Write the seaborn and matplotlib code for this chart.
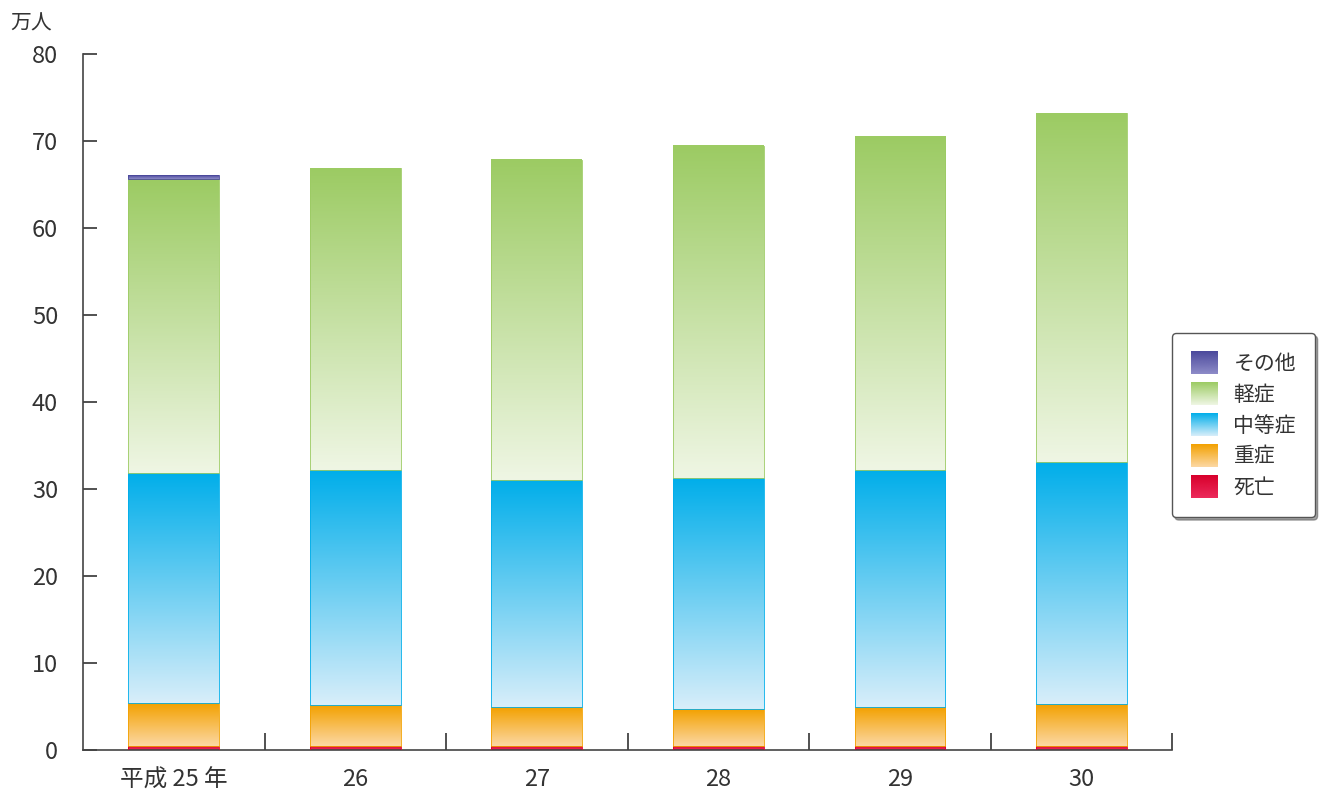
import numpy as np
import pandas as pd
import matplotlib
matplotlib.use("Agg")
import matplotlib.pyplot as plt
import seaborn as sns
from matplotlib.colors import LinearSegmentedColormap
from matplotlib.patches import Patch
from matplotlib.legend_handler import HandlerBase
from matplotlib.image import BboxImage
from matplotlib.transforms import Bbox, TransformedBbox

# data (万人)
years = ["平成 25 年", "26", "27", "28", "29", "30"]
death = [0.5, 0.5, 0.5, 0.5, 0.5, 0.5]
severe = [4.9, 4.7, 4.4, 4.2, 4.4, 4.8]
moderate = [26.5, 27.0, 26.1, 26.6, 27.3, 27.8]
mild = [33.8, 34.7, 36.8, 38.2, 38.3, 40.1]
other = [0.45, 0, 0, 0, 0, 0]

labels = ["死亡", "重症", "中等症", "軽症", "その他"]
# (bottom colour, top colour) for each gradient
grads = {
    "死亡": ("#EC2A5A", "#D8002C"),
    "重症": ("#FCD8A4", "#F3A100"),
    "中等症": ("#D8EEFA", "#00AEEA"),
    "軽症": ("#EFF6E4", "#9CCB63"),
    "その他": ("#8E8CC8", "#4A489C"),
}

df = pd.DataFrame({"死亡": death, "重症": severe, "中等症": moderate,
                   "軽症": mild, "その他": other}, index=years)
cum = df.cumsum(axis=1)

sns.set_style("ticks")
plt.rcParams["font.family"] = ["Noto Sans CJK JP", "DejaVu Sans"]
plt.rcParams["text.color"] = "#333333"

fig = plt.figure(figsize=(13.29, 7.98), dpi=100)
ax = fig.add_axes([0.0625, 0.060, 0.8195, 0.872])

grad = np.linspace(0, 1, 256).reshape(-1, 1)

for i, lab in enumerate(labels):
    n_before = len(ax.patches)
    sns.barplot(x=years, y=cum[lab].values, color=grads[lab][1], width=0.5,
                ax=ax, saturation=1)
    new = ax.patches[n_before:]
    bottoms = cum[labels[i - 1]].values if i > 0 else np.zeros(len(years))
    cmap = LinearSegmentedColormap.from_list(lab, list(grads[lab]))
    for p, b in zip(new, bottoms):
        top = p.get_y() + p.get_height()
        if top - b <= 0:
            p.set_visible(False)
            continue
        p.set_y(b)
        p.set_height(top - b)
        p.set_facecolor("none")
        p.set_edgecolor(grads[lab][1])
        p.set_linewidth(0.6)
        p.set_zorder(3)
        x0 = p.get_x()
        ax.imshow(grad, cmap=cmap, origin="lower", aspect="auto",
                  extent=[x0, x0 + p.get_width(), b, top], zorder=2,
                  interpolation="bicubic")

ax.set_xlim(-0.5, 5.5)
ax.set_ylim(0, 80)
ax.set_yticks(range(0, 81, 10))
ax.tick_params(axis="y", direction="in", length=10, width=1.2, pad=18,
               labelsize=17, colors="#333333")
ax.tick_params(axis="x", which="major", length=0, pad=13, labelsize=17,
               colors="#333333")
ax.set_xticks(np.arange(0.5, 6, 1), minor=True)
ax.tick_params(axis="x", which="minor", direction="in", length=12, width=1.2,
               color="#333333")
sns.despine(ax=ax)
for s in ["left", "bottom"]:
    ax.spines[s].set_color("#444444")
    ax.spines[s].set_linewidth(1.2)
ax.set_xlabel("")
ax.set_ylabel("")

fig.text(0.008, 1 - 24 / 798, "万人", fontsize=15, va="center", ha="left")


class GradientHandler(HandlerBase):
    def __init__(self, c0, c1):
        super().__init__()
        self.cmap = LinearSegmentedColormap.from_list("h", [c0, c1])

    def create_artists(self, legend, orig_handle, xdescent, ydescent,
                       width, height, fontsize, trans):
        bb = TransformedBbox(Bbox.from_bounds(-xdescent, -ydescent, width, height), trans)
        img = BboxImage(bb, cmap=self.cmap, interpolation="bicubic", origin="lower")
        img.set_data(grad)
        return [img]


handles = []
hmap = {}
for lab in labels[::-1]:
    h = Patch(label=lab)
    handles.append(h)
    hmap[h] = GradientHandler(*grads[lab])

leg = ax.legend(handles=handles, handler_map=hmap, loc="upper left",
                bbox_to_anchor=(1172 / 1329, 1 - 333 / 798),
                bbox_transform=fig.transFigure, fontsize=15, frameon=True,
                fancybox=True, shadow=True, handlelength=1.25, handleheight=1.25,
                labelspacing=0.38, handletextpad=0.8, borderpad=0.9,
                borderaxespad=0)
leg.get_frame().set_edgecolor("#555555")
leg.get_frame().set_linewidth(1.0)

fig.savefig("out.png", dpi=100)
